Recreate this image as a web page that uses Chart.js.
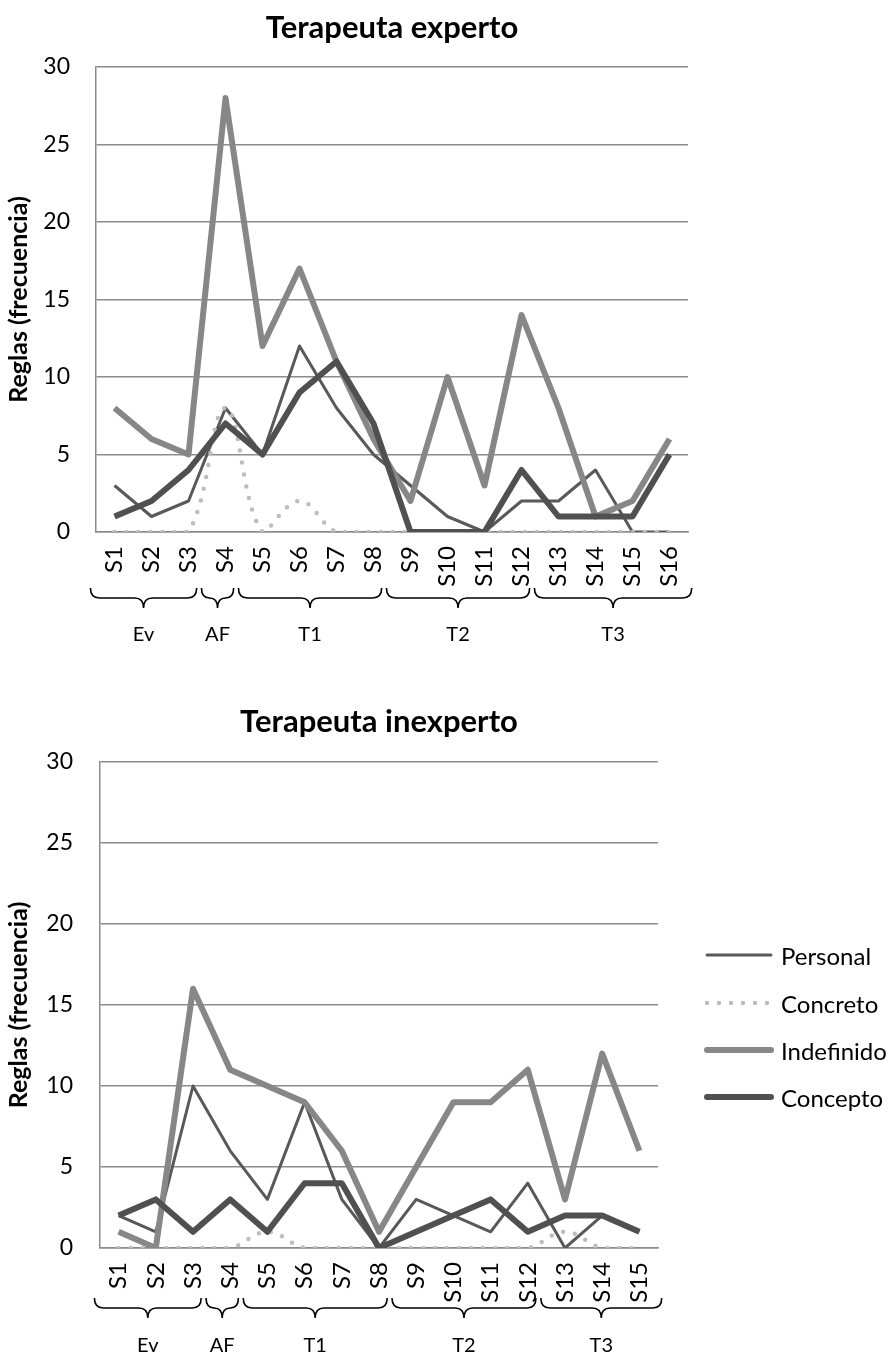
<!DOCTYPE html>
<html>
<head>
<meta charset="utf-8">
<script src="https://cdn.jsdelivr.net/npm/chart.js@4/dist/chart.umd.min.js"></script>
<style>
  body { margin: 0; background: #fff; width: 889px; height: 1362px; position: relative; overflow: hidden; font-family: Lato, sans-serif; }
  #expert { position: absolute; left: 0; top: 0; }
  #novice { position: absolute; left: 0; top: 680px; }
  .legend-item { position: absolute; left: 703px; display: flex; align-items: center; font-size: 24px; color: #000; }
  .legend-item svg { margin-right: 6px; }
</style>
</head>
<body>
<canvas id="expert" width="889" height="680"></canvas>
<canvas id="novice" width="889" height="682"></canvas>
<div id="legend"></div>
<script>
// sessions on the x axis
const expertSessions = ['S1','S2','S3','S4','S5','S6','S7','S8','S9','S10','S11','S12','S13','S14','S15','S16'];
const noviceSessions = ['S1','S2','S3','S4','S5','S6','S7','S8','S9','S10','S11','S12','S13','S14','S15'];

const seriesNames = ['Personal', 'Concreto', 'Indefinido', 'Concepto'];

// Terapeuta experto
const expertPersonal   = [3, 1, 2, 8, 5, 12, 8, 5, 3, 1, 0, 2, 2, 4, 0, 0];
const expertConcreto   = [0, 0, 0, 8, 0, 2, 0, 0, 0, 0, 0, 0, 0, 0, 0, 0];
const expertIndefinido = [8, 6, 5, 28, 12, 17, 11, 6, 2, 10, 3, 14, 8, 1, 2, 6];
const expertConcepto   = [1, 2, 4, 7, 5, 9, 11, 7, 0, 0, 0, 4, 1, 1, 1, 5];

// Terapeuta inexperto
const novicePersonal   = [2, 1, 10, 6, 3, 9, 3, 0, 3, 2, 1, 4, 0, 2, 1];
const noviceConcreto   = [0, 0, 0, 0, 1, 0, 0, 0, 0, 0, 0, 0, 1, 0, 0];
const noviceIndefinido = [1, 0, 16, 11, 10, 9, 6, 1, 5, 9, 9, 11, 3, 12, 6];
const noviceConcepto   = [2, 3, 1, 3, 1, 4, 4, 0, 1, 2, 3, 1, 2, 2, 1];

// phases (braces under the axis), indexes into the sessions
const phaseLabels = ['Ev', 'AF', 'T1', 'T2', 'T3'];
const phaseStart = [0, 3, 4, 8, 12];
const expertPhaseEnd = [2, 3, 7, 11, 15];
const novicePhaseEnd = [2, 3, 7, 11, 14];

const yTicks = [0, 5, 10, 15, 20, 25, 30];

Chart.defaults.font.family = 'Lato, sans-serif';
Chart.defaults.color = '#000';

const lineStyles = [
  { borderColor: '#595959', borderWidth: 3, order: 4 },
  { borderColor: '#bdbdbd', borderWidth: 4.5, borderDash: [0, 12], borderCapStyle: 'round', tension: 0.4, order: 3 },
  { borderColor: '#878787', borderWidth: 6, order: 2 },
  { borderColor: '#505050', borderWidth: 6, order: 1 }
];

function makeDatasets(seriesList) {
  return seriesList.map((values, i) => Object.assign({
    label: seriesNames[i],
    data: values,
    pointRadius: 0,
    borderJoinStyle: 'round',
    fill: false
  }, lineStyles[i]));
}

function drawBrace(ctx, l, r, y, h) {
  const m = (l + r) / 2;
  const c = Math.min(9, (r - l) / 4);
  const mid = y + h / 2;
  ctx.beginPath();
  ctx.moveTo(l, y);
  ctx.quadraticCurveTo(l, mid, l + c, mid);
  ctx.lineTo(m - c, mid);
  ctx.quadraticCurveTo(m, mid, m, y + h);
  ctx.quadraticCurveTo(m, mid, m + c, mid);
  ctx.lineTo(r - c, mid);
  ctx.quadraticCurveTo(r, mid, r, y);
  ctx.stroke();
}

// title + phase braces drawn from the x scale
const bracesPlugin = {
  id: 'braces',
  afterDraw(chart, args, opts) {
    const { ctx, chartArea } = chart;
    const x = chart.scales.x;
    const step = x.getPixelForTick(1) - x.getPixelForTick(0);
    ctx.save();
    ctx.strokeStyle = '#000';
    ctx.lineWidth = 1.6;
    ctx.fillStyle = '#000';
    ctx.textAlign = 'center';
    ctx.textBaseline = 'middle';
    ctx.font = '20px Lato, sans-serif';
    phaseLabels.forEach((label, i) => {
      const last = i === phaseLabels.length - 1;
      const l = x.getPixelForTick(phaseStart[i]) - 0.65 * step;
      const r = x.getPixelForTick(opts.ends[i]) + (last ? 0.6 : 0.22) * step;
      drawBrace(ctx, l, r, chartArea.bottom + opts.braceTop, 20);
      ctx.fillText(label, (l + r) / 2, chartArea.bottom + opts.labelOffset);
    });
    ctx.font = 'bold 31px Lato, sans-serif';
    ctx.fillText(opts.title, (chartArea.left + chartArea.right) / 2, opts.titleY);
    ctx.restore();
  }
};

function makeChart(id, labels, seriesList, cfg) {
  return new Chart(document.getElementById(id), {
    type: 'line',
    data: { labels: labels, datasets: makeDatasets(seriesList) },
    plugins: [bracesPlugin],
    options: {
      responsive: false,
      animation: false,
      devicePixelRatio: 1,
      layout: { padding: { left: 0, right: cfg.padRight, top: cfg.padTop, bottom: 0 } },
      plugins: {
        legend: { display: false },
        tooltip: { enabled: false },
        braces: { ends: cfg.ends, braceTop: cfg.braceTop, labelOffset: cfg.labelOffset, title: cfg.title, titleY: cfg.titleY }
      },
      scales: {
        x: {
          offset: true,
          grid: { display: false },
          border: { display: true, color: '#8c8c8c', width: 1.5 },
          ticks: { minRotation: 90, maxRotation: 90, padding: 6, font: { size: 24 }, color: '#000' },
          afterFit: s => { s.height = cfg.xHeight; }
        },
        y: {
          min: 0,
          max: 30,
          afterBuildTicks: s => { s.ticks = yTicks.map(v => ({ value: v })); },
          grid: { color: '#8c8c8c', lineWidth: 1.5, drawTicks: false },
          border: { display: true, color: '#8c8c8c', width: 1.5 },
          ticks: { padding: cfg.tickPad, font: { size: 23 }, color: '#000' },
          title: { display: true, text: 'Reglas (frecuencia)', font: { size: 25, weight: 'bold' }, color: '#000', padding: { top: 4, bottom: 0 } },
          afterFit: s => { s.width = cfg.yWidth; }
        }
      }
    }
  });
}

makeChart('expert', expertSessions, [expertPersonal, expertConcreto, expertIndefinido, expertConcepto], {
  padRight: 201, padTop: 67, xHeight: 148, yWidth: 96, tickPad: 26,
  ends: expertPhaseEnd, braceTop: 56, labelOffset: 103, title: 'Terapeuta experto', titleY: 28
});

makeChart('novice', noviceSessions, [novicePersonal, noviceConcreto, noviceIndefinido, noviceConcepto], {
  padRight: 231, padTop: 82, xHeight: 114, yWidth: 100, tickPad: 27,
  ends: novicePhaseEnd, braceTop: 50, labelOffset: 98, title: 'Terapeuta inexperto', titleY: 42
});

// legend on the right of the second chart
const legendRows = [955, 1003, 1050, 1097];
const legend = document.getElementById('legend');
seriesNames.forEach((name, i) => {
  const st = lineStyles[i];
  const item = document.createElement('div');
  item.className = 'legend-item';
  item.style.top = (legendRows[i] - 15) + 'px';
  item.style.height = '30px';
  const dash = st.borderDash ? ` stroke-dasharray="${st.borderDash.join(' ')}"` : '';
  item.innerHTML = `<svg width="72" height="12"><line x1="4" y1="6" x2="68" y2="6" stroke="${st.borderColor}" stroke-width="${st.borderWidth}" stroke-linecap="round"${dash}/></svg><span>${name}</span>`;
  legend.appendChild(item);
});
</script>
</body>
</html>
